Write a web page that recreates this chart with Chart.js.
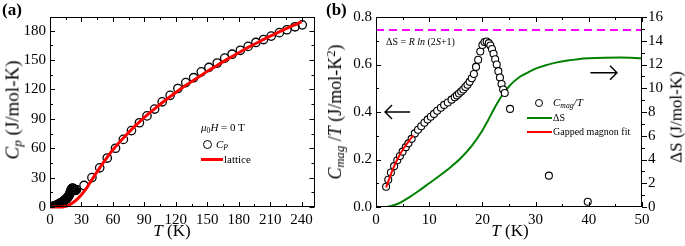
<!DOCTYPE html>
<html><head><meta charset="utf-8">
<script src="https://cdn.jsdelivr.net/npm/chart.js@4.4.1/dist/chart.umd.min.js"></script>
<style>
html,body{margin:0;padding:0;background:#fff;}
body{width:685px;height:246px;position:relative;overflow:hidden;font-family:"Liberation Serif","Times New Roman",serif;color:#000;}
canvas{position:absolute;top:0;}
.t{position:absolute;white-space:nowrap;line-height:1;color:#000;}
.rot{transform:translate(-50%,-50%) rotate(-90deg);}
.ctr{transform:translate(-50%,-50%);}
sub{font-size:70%;vertical-align:-0.25em;line-height:0;}
sup{font-size:70%;vertical-align:0.45em;line-height:0;}
.circ{position:absolute;border:1.3px solid #000;border-radius:50%;box-sizing:border-box;background:#fff;}
.ln{position:absolute;}
</style></head>
<body>
<canvas id="ca" width="320" height="246" style="left:0"></canvas>
<canvas id="cb" width="365" height="246" style="left:320px"></canvas>

<div class="t" style="left:2px;top:1px;font-size:17px;font-weight:bold">(a)</div>
<div class="t" style="left:326px;top:1px;font-size:17px;font-weight:bold">(b)</div>

<div class="t ctr" style="left:172px;top:230px;font-size:17px"><i>T</i> (K)</div>
<div class="t rot" style="left:12px;top:110px;font-size:19px"><i>C<sub>p</sub></i> (J/mol-K)</div>

<div class="t ctr" style="left:510px;top:230px;font-size:17px"><i>T</i> (K)</div>
<div class="t rot" style="left:335px;top:112px;font-size:18px"><i>C<sub>mag</sub></i> /<i>T</i> (J/mol-K<sup>2</sup>)</div>
<div class="t rot" style="left:676px;top:117px;font-size:17px">ΔS (J/mol-K)</div>

<!-- legend (a) -->
<div class="t" style="left:201px;top:122px;font-size:11px"><i>μ</i><sub>0</sub><i>H</i> = 0 T</div>
<div class="circ" style="left:203px;top:140px;width:9px;height:9px"></div>
<div class="t" style="left:216px;top:139px;font-size:11px"><i>C<sub>P</sub></i></div>
<div class="ln" style="left:201px;top:158px;width:22px;height:3px;background:#ff0000"></div>
<div class="t" style="left:224px;top:154px;font-size:11px">lattice</div>

<!-- legend (b) -->
<div class="circ" style="left:535px;top:99px;width:8px;height:8px"></div>
<div class="t" style="left:553px;top:97px;font-size:11px"><i>C<sub>mag</sub>/T</i></div>
<div class="ln" style="left:527px;top:117px;width:25px;height:2px;background:#008000"></div>
<div class="t" style="left:553px;top:113px;font-size:10px">ΔS</div>
<div class="ln" style="left:527px;top:131px;width:25px;height:2px;background:#ff0000"></div>
<div class="t" style="left:553px;top:127px;font-size:10px">Gapped magnon fit</div>

<div class="t" style="left:386px;top:37px;font-size:10px">ΔS = <i>R ln</i> (2<i>S</i>+1)</div>

<script>
// ---------- Panel (a) data ----------
const aT = [1.9,2.3,2.8,3.4,4.0,4.5,5.0,5.6,6.1,6.7,7.3,7.9,8.5,9.1,9.7,10.3,10.9,11.5,12.2,12.8,13.5,14.2,14.8,15.2,15.6,16.0,16.4,16.8,17.2,17.6,18.0,18.4,18.8,19.2,19.6,20.0,20.4,20.8,21.2,21.5,21.8,22.1,22.4,22.7,23.0,23.3,23.6,23.9,24.2,
  25.3,32.5,40,47.4,54.6,62.5,70,77.7,85.3,92.5,99.8,107,114.6,122,129.5,137,144.3,151.6,159.5,166.7,173.7,181.6,189,196.4,203.7,211,218.8,226,233.7,240.6];
const aCp = [0.3,0.4,0.5,0.7,0.9,1.1,1.3,1.5,1.8,2.1,2.4,2.7,3.0,3.4,3.8,4.2,4.6,5.0,5.5,6.0,6.5,7.1,7.6,8.0,8.4,8.8,9.3,9.8,10.3,10.9,11.6,12.4,13.4,14.4,15.6,16.6,18.0,18.7,19.0,19.1,19.0,18.8,18.5,18.2,17.9,17.6,17.3,17.1,16.9,
  17.7,22,30,40,50,60,69,78,86,93,100,107.4,114,121,127,132,138,142.5,147,152,156,160,164,168,171,174.5,178,181,184,186];
const latT  = [0,10,14,18,22,26,30,35,40,45,50,55,60,70,80,90,100,110,120,130,140,150,160,170,180,190,200,210,220,230,240];
const latCp = [0,0,0.5,2,4.5,8,12.5,19.5,28,36,44,51.5,58.5,70.5,81.5,91.5,100.5,109,117,124.5,131.5,138.5,145,151.5,157.5,163.5,169,174.5,179.5,184.5,189];
const aXTicks = [0,30,60,90,120,150,180,210,240];
const aYTicks = [0,30,60,90,120,150,180];

// ---------- Panel (b) data ----------
const bT = [1.9,2.3,2.8,3.4,4.0,4.5,5.0,5.6,6.1,6.7,7.3,7.9,8.5,9.1,9.7,10.3,10.9,11.5,12.2,12.8,13.5,14.2,14.8,15.2,15.6,16.0,16.4,16.8,17.2,17.6,18.0,18.4,18.8,19.2,19.6,20.0,20.4,20.8,21.2,21.5,21.8,22.1,22.4,22.7,23.0,23.3,23.6,23.9,24.2,25.2,32.5,39.8];
const bCmagT = [0.085,0.115,0.145,0.172,0.197,0.215,0.233,0.252,0.268,0.287,0.31,0.325,0.34,0.355,0.368,0.38,0.392,0.405,0.418,0.43,0.44,0.452,0.462,0.47,0.478,0.486,0.495,0.505,0.515,0.527,0.542,0.56,0.59,0.62,0.655,0.682,0.695,0.697,0.69,0.68,0.665,0.645,0.622,0.6,0.572,0.545,0.518,0.495,0.48,0.413,0.132,0.022];
const dsT = [2,4,6,8,10,12,14,16,18,20,21,22,23,24,25,26,27,28,30,32,34,36,38,40,43,46,50];
const dsS = [0,0.25,0.75,1.35,2.0,2.65,3.35,4.15,5.15,6.45,7.25,8.1,8.9,9.6,10.15,10.6,10.95,11.2,11.65,11.95,12.18,12.34,12.45,12.52,12.57,12.58,12.53];
const fitT = [1.9,3,4,5,6,7];
const fitC = [0.082,0.15,0.2,0.24,0.272,0.302];
const entropyLimit = 14.9;   // R ln(2S+1), right axis
const bXTicks = [0,10,20,30,40,50];
const bYTicks = [0,0.2,0.4,0.6,0.8];
const bY2Ticks = [0,2,4,6,8,10,12,14,16];

// ---------- helpers ----------
const zip = (xs, ys) => xs.map((x, i) => ({x, y: ys[i]}));
const FONT = {family: "'Liberation Serif','Times New Roman',serif", size: 15};
function mids(t, min, max){
  const r=[]; const st=t[1]-t[0];
  for(let i=0;i<t.length;i++){const m=t[i]+st/2; if(m>min&&m<max) r.push(m);}
  const m0=t[0]-st/2; if(m0>min) r.push(m0);
  return r;
}

const frameTicks = {
  id:'frameTicks',
  afterDatasetsDraw(chart, args, opts){
    const {ctx, chartArea:a} = chart;
    ctx.save();
    ctx.strokeStyle='#000'; ctx.lineWidth=1;
    ctx.strokeRect(Math.round(a.left)+0.5, Math.round(a.top)+0.5, Math.round(a.right-a.left)-1, Math.round(a.bottom-a.top)-1);
    (opts.axes||[]).forEach(ax=>{
      const s = chart.scales[ax.id];
      const list = ax.major.map(v=>[v,5]).concat(mids(ax.major, s.min, s.max).map(v=>[v,3]));
      list.forEach(([v,len])=>{
        const p = Math.round(s.getPixelForValue(v))+0.5;
        ax.sides.forEach(side=>{
          ctx.beginPath();
          if(side==='bottom'){ctx.moveTo(p,a.bottom);ctx.lineTo(p,a.bottom-len);}
          if(side==='top'){ctx.moveTo(p,a.top);ctx.lineTo(p,a.top+len);}
          if(side==='left'){ctx.moveTo(a.left,p);ctx.lineTo(a.left+len,p);}
          if(side==='right'){ctx.moveTo(a.right,p);ctx.lineTo(a.right-len,p);}
          if(side==='rightOut'){ctx.moveTo(a.right,p);ctx.lineTo(a.right+len,p);}
          ctx.stroke();
        });
      });
    });
    (opts.arrows||[]).forEach(ar=>{
      const xs=chart.scales.x, ys=chart.scales[ar.axis];
      const x0=xs.getPixelForValue(ar.from[0]), y0=ys.getPixelForValue(ar.from[1]);
      const x1=xs.getPixelForValue(ar.to[0]), y1=ys.getPixelForValue(ar.to[1]);
      const d = x1>x0?1:-1;
      ctx.lineWidth=1.4;
      ctx.beginPath();ctx.moveTo(x0,y0);ctx.lineTo(x1,y1);
      ctx.moveTo(x1-d*7,y1-7);ctx.lineTo(x1,y1);ctx.lineTo(x1-d*7,y1+7);
      ctx.stroke();
    });
    ctx.restore();
  }
};

function linScale(min,max,ticks,extra){
  return Object.assign({
    type:'linear', min, max,
    afterBuildTicks: s => { s.ticks = ticks.map(v=>({value:v})); },
    grid:{display:false, drawTicks:false},
    border:{display:false},
    ticks:{font:FONT, color:'#000', autoSkip:false, maxRotation:0, padding:4}
  }, extra||{});
}

// ---------- Chart (a) ----------
new Chart(document.getElementById('ca'), {
  type:'scatter',
  data:{datasets:[
    {data: zip(latT, latCp), showLine:true, borderColor:'#ff0000', borderWidth:3, pointRadius:0, tension:0.4, cubicInterpolationMode:'monotone', clip:3},
    {data: zip(aT, aCp), showLine:false, pointRadius:4.2, pointBorderWidth:1.3, pointBorderColor:'#000', pointBackgroundColor:'rgba(0,0,0,0)', clip:0}
  ]},
  options:{
    responsive:false, animation:false, events:[],
    layout:{padding:{top:17,right:4,left:0,bottom:0}},
    plugins:{legend:{display:false}, tooltip:{enabled:false},
      frameTicks:{axes:[{id:'x',major:aXTicks,sides:['bottom','top']},{id:'y',major:aYTicks,sides:['left','right']}]}},
    scales:{
      x: linScale(0,252.3,aXTicks,{afterFit:s=>{s.height=39;}}),
      y: linScale(0,194,aYTicks,{afterFit:s=>{s.width=50;}})
    }
  },
  plugins:[frameTicks]
});

// ---------- Chart (b) ----------
new Chart(document.getElementById('cb'), {
  type:'scatter',
  data:{datasets:[
    {data: zip(fitT, fitC), showLine:true, borderColor:'#ff0000', borderWidth:2, pointRadius:0, tension:0.3, yAxisID:'y'},
    {data: zip(bT, bCmagT), showLine:false, pointRadius:3.5, pointBorderWidth:1.1, pointBorderColor:'#000', pointBackgroundColor:'#fff', yAxisID:'y'},
    {data: zip(dsT, dsS), showLine:true, borderColor:'#008000', borderWidth:2, pointRadius:0, cubicInterpolationMode:'monotone', yAxisID:'y2'},
    {data: [{x:0,y:entropyLimit},{x:50,y:entropyLimit}], showLine:true, borderColor:'#ff00ff', borderWidth:2, borderDash:[8,5], pointRadius:0, yAxisID:'y2'}
  ]},
  options:{
    responsive:false, animation:false, events:[],
    layout:{padding:{top:17,right:0,left:0,bottom:0}},
    plugins:{legend:{display:false}, tooltip:{enabled:false},
      frameTicks:{
        axes:[{id:'x',major:bXTicks,sides:['bottom','top']},{id:'y',major:bYTicks,sides:['left']},{id:'y2',major:bY2Ticks,sides:['rightOut']}],
        arrows:[{from:[6.4,0.4],to:[1.7,0.4],axis:'y'},{from:[40.3,11.3],to:[45.3,11.3],axis:'y2'}]
      }},
    scales:{
      x: linScale(0,50,bXTicks,{afterFit:s=>{s.height=39;}}),
      y: linScale(0,0.8,bYTicks,{position:'left', afterFit:s=>{s.width=56;},
          ticks:{font:FONT,color:'#000',autoSkip:false,padding:4,callback:v=>v.toFixed(1)}}),
      y2: linScale(0,16,bY2Ticks,{position:'right', afterFit:s=>{s.width=43;},
          ticks:{font:FONT,color:'#000',autoSkip:false,padding:6}})
    }
  },
  plugins:[frameTicks]
});
</script>
</body></html>
